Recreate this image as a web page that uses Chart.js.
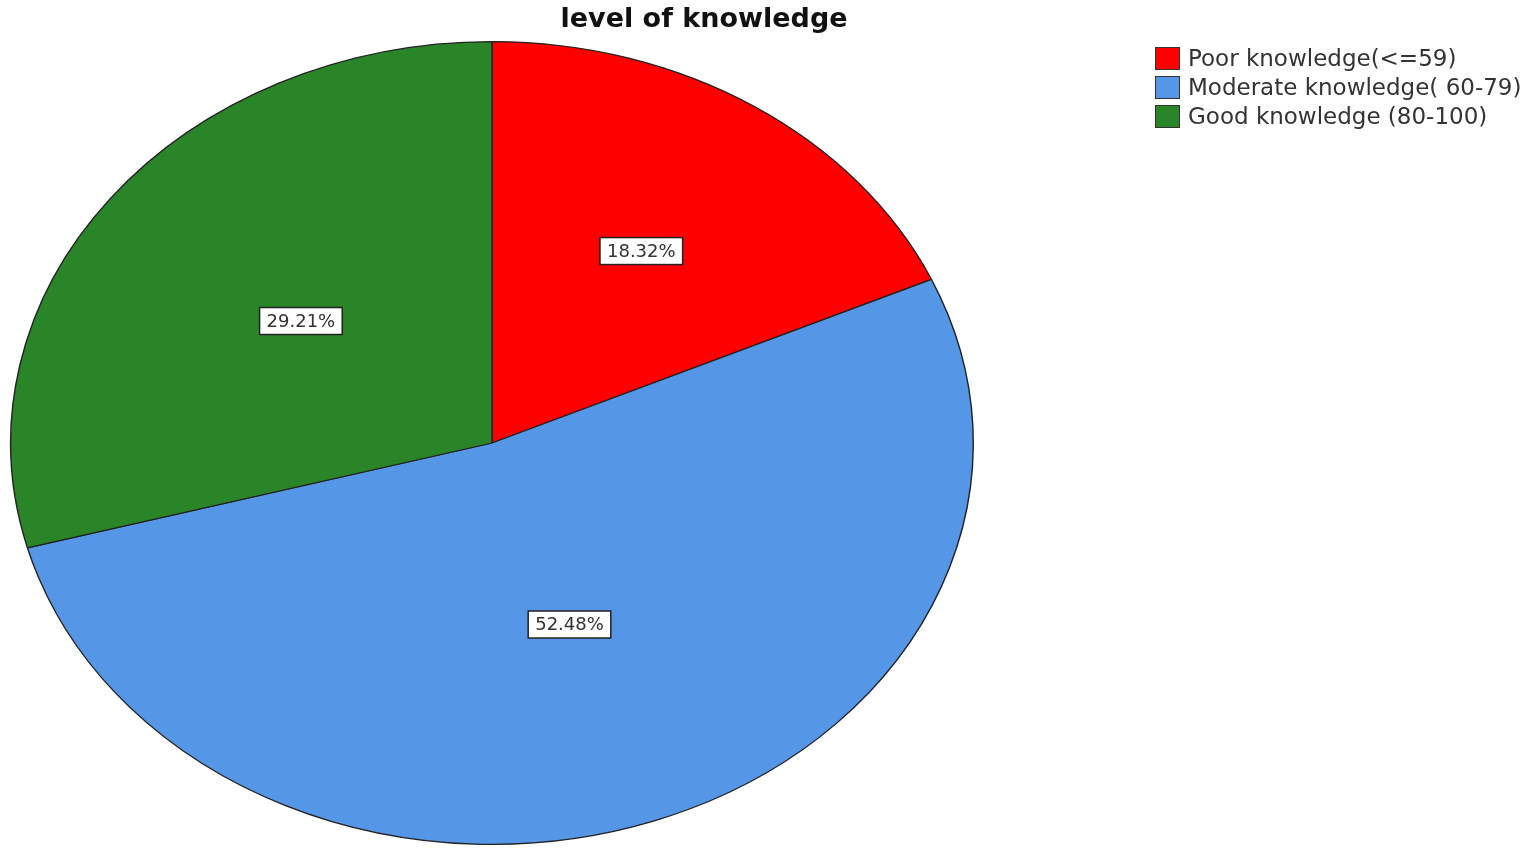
<!DOCTYPE html>
<html>
<head>
<meta charset="utf-8">
<script src="https://cdn.jsdelivr.net/npm/chart.js@4.4.1/dist/chart.umd.min.js"></script>
<style>
  html, body { margin: 0; padding: 0; background: #fff; }
  #wrap { width: 1535px; height: 856px; position: relative; }
</style>
</head>
<body>
<div id="wrap"><canvas id="pieChart"></canvas></div>
<script>
// datos
const categories = ['Poor knowledge(<=59)', 'Moderate knowledge( 60-79)', 'Good knowledge (80-100)'];
const percents = [18.32, 52.48, 29.21];
const sliceColors = ['#ff0000', '#5597e6', '#2a8529'];
const chartTitle = 'level of knowledge';

// estirar el pastel en horizontal para que quede eliptico
const stretchX = 482 / 402;
// distancia de cada etiqueta al centro (fraccion del radio)
const labelDist = [0.57, 0.48, 0.50];

const ellipsePlugin = {
    id: 'ellipse',
    beforeDatasetsDraw(chart) {
        const arc = chart.getDatasetMeta(0).data[0];
        const ctx = chart.ctx;
        ctx.save();
        ctx.translate(arc.x, 0);
        ctx.scale(stretchX, 1);
        ctx.translate(-arc.x, 0);
    },
    afterDatasetsDraw(chart) {
        const ctx = chart.ctx;
        ctx.restore();

        // etiquetas de porcentaje
        const meta = chart.getDatasetMeta(0);
        ctx.save();
        ctx.font = '18px "DejaVu Sans", Verdana, sans-serif';
        ctx.textAlign = 'center';
        ctx.textBaseline = 'middle';
        meta.data.forEach(function(arc, i) {
            const mid = (arc.startAngle + arc.endAngle) / 2;
            const r = arc.outerRadius * labelDist[i];
            const x = arc.x + Math.cos(mid) * r * stretchX;
            const y = arc.y + Math.sin(mid) * r;
            const txt = percents[i].toFixed(2) + '%';
            const w = ctx.measureText(txt).width + 14;
            const h = 27;
            ctx.fillStyle = '#ffffff';
            ctx.fillRect(x - w / 2, y - h / 2, w, h);
            ctx.strokeStyle = '#222';
            ctx.lineWidth = 1.5;
            ctx.strokeRect(x - w / 2, y - h / 2, w, h);
            ctx.fillStyle = '#333';
            ctx.fillText(txt, x, y + 1);
        });

        // titulo
        ctx.font = 'bold 27px "DejaVu Sans", Verdana, sans-serif';
        ctx.fillStyle = '#111';
        ctx.fillText(chartTitle, 704, 20);

        // leyenda
        ctx.font = '23px "DejaVu Sans", Verdana, sans-serif';
        ctx.textAlign = 'left';
        categories.forEach(function(c, i) {
            const y = 59 + i * 29;
            ctx.fillStyle = sliceColors[i];
            ctx.fillRect(1155, y - 12, 25, 23);
            ctx.strokeStyle = '#333';
            ctx.lineWidth = 1;
            ctx.strokeRect(1155.5, y - 11.5, 24, 22);
            ctx.fillStyle = '#333';
            ctx.fillText(c, 1188, y + 1);
        });
        ctx.restore();
    }
};

new Chart(document.getElementById('pieChart'), {
    type: 'pie',
    data: {
        labels: categories,
        datasets: [{
            data: percents,
            backgroundColor: sliceColors,
            borderColor: '#222',
            borderWidth: 1.2
        }]
    },
    options: {
        responsive: true,
        maintainAspectRatio: false,
        animation: false,
        layout: {
            padding: { left: 90, right: 641, top: 41, bottom: 11 }
        },
        plugins: {
            legend: { display: false },
            title: { display: false },
            tooltip: { enabled: false }
        }
    },
    plugins: [ellipsePlugin]
});
</script>
</body>
</html>
